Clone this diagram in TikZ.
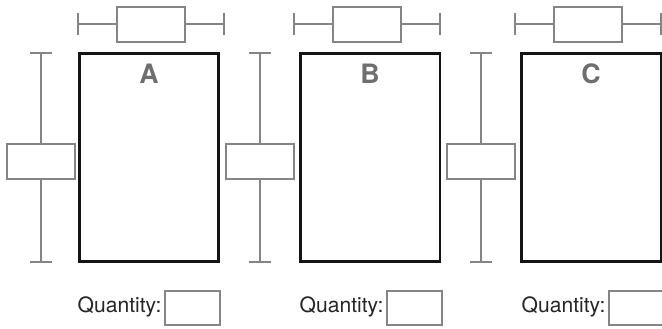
\documentclass[tikz,border=0pt]{standalone}
\usepackage{fontspec}
\setmainfont{TeX Gyre Heros}
\usetikzlibrary{positioning}

\definecolor{wgray}{HTML}{858585}
\definecolor{lgray}{HTML}{6E6E6E}
\definecolor{tblack}{HTML}{262626}

\tikzset{
  panel/.style={draw=black!92, line width=1.7pt, minimum width=2.8cm, minimum height=4.18cm, inner sep=0},
  plotbox/.style={draw=wgray, line width=0.7pt, fill=white, minimum width=1.36cm, minimum height=0.7cm, inner sep=0},
  answerbox/.style={draw=wgray, line width=0.7pt, minimum width=1.1cm, minimum height=0.68cm, inner sep=0},
  whisker/.style={draw=wgray, line width=0.7pt},
  letter/.style={text=lgray, font=\fontsize{15.2}{17}\selectfont\bfseries, inner sep=0},
  qtext/.style={text=tblack, font=\fontsize{12}{14}\selectfont, inner sep=0}
}

\begin{document}
\begin{tikzpicture} [x=0.02cm, y=-0.02cm]
  \useasboundingbox (0,0) rectangle (662,328);
  \foreach \p/\rx/\tx/\vx/\qx in {A/79/78/41/165, B/300/294/260/387, C/521/515/481/609} {
    % main panel and its letter
    \path  (\rx+70, 157.5)  node[panel](rect\p) {}
           (\rx+70, 74)     node[letter](lab\p) {\p};
    % box plot above the panel
    \path  (\tx+73, 24.5)  node[plotbox](tbox\p) {}
           (\tx, 24)       coordinate(tl\p)
           (\tx+146, 24)   coordinate(tr\p);
    \draw [whisker] (tbox\p.west |- tl\p) -- (tl\p);
    \draw [whisker] (tbox\p.east |- tr\p) -- (tr\p);
    \draw [whisker] ([yshift=-0.22cm]tl\p) -- ([yshift=0.22cm]tl\p);
    \draw [whisker] ([yshift=-0.22cm]tr\p) -- ([yshift=0.22cm]tr\p);
    % box plot left of the panel
    \path  (\vx, 161.5)  node[plotbox](vbox\p) {}
           (\vx, 53)     coordinate(vt\p)
           (\vx, 262)    coordinate(vb\p);
    \draw [whisker] (vbox\p.north) -- (vt\p);
    \draw [whisker] (vbox\p.south) -- (vb\p);
    \draw [whisker] ([xshift=-0.22cm]vt\p) -- ([xshift=0.22cm]vt\p);
    \draw [whisker] ([xshift=-0.22cm]vb\p) -- ([xshift=0.22cm]vb\p);
    % quantity field
    \path  (\qx+27.5, 308)  node[answerbox](qbox\p) {};
    \node [qtext, left=0.05cm of qbox\p, yshift=0.03cm] (qlab\p) {Quantity:};
  }
\end{tikzpicture}
\end{document}
